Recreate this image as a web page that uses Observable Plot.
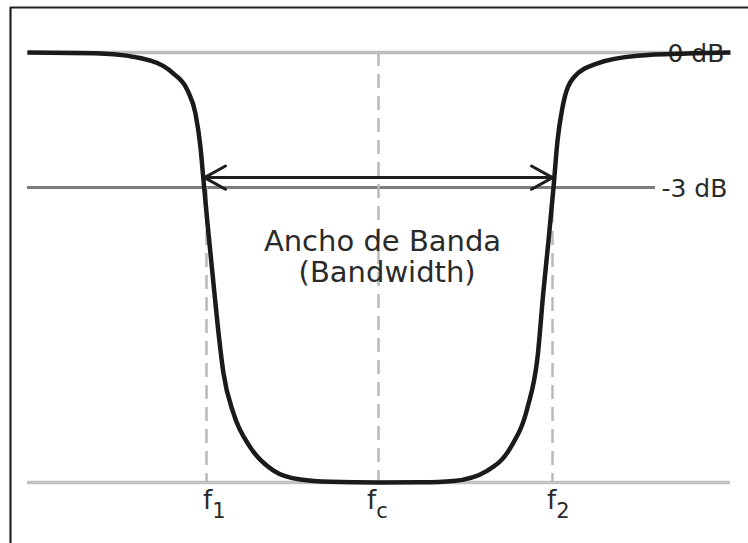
<!DOCTYPE html>
<html>
<head>
<meta charset="utf-8">
<script src="https://cdn.jsdelivr.net/npm/d3@7"></script>
<script src="https://cdn.jsdelivr.net/npm/@observablehq/plot@0.6"></script>
<style>
  html, body { margin: 0; padding: 0; background: #fff; }
  svg { display: block; }
</style>
</head>
<body>
<script>
// Frequency (arbitrary units) and response level (dB, schematic)
const curveFreq = [27, 100, 150, 173, 187, 195, 200, 203, 207, 212, 217, 223, 233, 250, 273, 300, 330, 378,
                   420, 453, 487, 510, 527, 537, 543, 548, 553, 557, 562, 573, 597, 637, 687, 730];
const curveDb   = [0, -0.02, -0.18, -0.47, -0.84, -1.36, -2.11, -2.84, -3.8, -4.91, -6.02, -7.13, -8.02, -8.78, -9.29, -9.49, -9.54, -9.556,
                   -9.55, -9.52, -9.29, -8.78, -7.89, -6.78, -5.29, -4.18, -3.0, -1.96, -1.22, -0.56, -0.24, -0.07, -0.02, 0];

const freqStart = 27, freqEnd = 730, minusThreeEnd = 655;
const levelTop = 0, levelHalf = -3, levelBottom = -9.556;
const f1 = 206, fc = 378, f2 = 552;
const markerNames = ["f", "f", "f"];
const markerSubs = ["1", "c", "2"];
const markerFreqs = [f1, fc, f2];
const markerTop = [levelHalf, levelTop, levelHalf];
const markerDxF = [1, -7, -1];
const markerDxS = [5.8, -2.2, 3.8];
const levelLabels = ["0 dB", "-3 dB"];
const levelLabelDb = [levelTop, levelHalf];
const levelLabelFreq = [667, 661];
const bandLabels = ["Ancho de Banda", " (Bandwidth)"];
const bandLabelFreq = [382, 382];
const bandLabelDb = [-4.4, -5.11];
const arrowDb = -2.78;
const arrowLeft = 204, arrowRight = 552;
const frameFreq = 10, frameDb = 1.0;

const curve = curveFreq.map((f, i) => ({f, db: curveDb[i]}));
const markers = markerFreqs.map((f, i) => ({f, top: markerTop[i], name: markerNames[i], sub: markerSubs[i], fx: f + markerDxF[i], sx: f + markerDxS[i]}));
const levels = levelLabels.map((t, i) => ({t, db: levelLabelDb[i], f: levelLabelFreq[i]}));
const bands = bandLabels.map((t, i) => ({t, f: bandLabelFreq[i], db: bandLabelDb[i]}));

const font = "DejaVu Sans";
const plot = Plot.plot({
  width: 748,
  height: 543,
  margin: 0,
  x: {domain: [0, 748], axis: null},
  y: {domain: [-(543 - 52) / 45, 52 / 45], axis: null},
  style: {fontFamily: font, background: "#fff"},
  marks: [
    // frame (top and left edges)
    Plot.ruleY([frameDb], {x1: frameFreq, x2: 748, stroke: "#222", strokeWidth: 2.2}),
    Plot.ruleX([frameFreq], {y1: frameDb, y2: -(543 - 52) / 45, stroke: "#222", strokeWidth: 2.2}),
    // reference levels
    Plot.ruleY([levelTop], {x1: freqStart, x2: freqEnd, stroke: "#bdbdbd", strokeWidth: 3.5}),
    Plot.ruleY([levelHalf], {x1: freqStart, x2: minusThreeEnd, stroke: "#7c7c7c", strokeWidth: 3}),
    Plot.ruleY([levelBottom], {x1: freqStart, x2: freqEnd, stroke: "#c2c2c2", strokeWidth: 3.5}),
    // dashed frequency markers
    Plot.ruleX(markers, {x: "f", y1: "top", y2: levelBottom, stroke: "#b9b9bf", strokeWidth: 2.5, strokeDasharray: "14 8"}),
    // level labels
    Plot.text(levels, {x: "f", y: "db", text: "t", textAnchor: "start", fontSize: 25, fill: "#2a2a2a", lineAnchor: "middle", dy: 1}),
    // bandwidth label
    Plot.text(bands, {x: "f", y: "db", text: "t", textAnchor: "middle", fontSize: 29, fill: "#2a2a2a", lineAnchor: "bottom"}),
    // frequency labels
    Plot.text(markers, {x: "fx", y: levelBottom, text: "name", textAnchor: "middle", fontSize: 26, fill: "#2a2a2a", lineAnchor: "bottom", dy: 26}),
    Plot.text(markers, {x: "sx", y: levelBottom, text: "sub", textAnchor: "start", fontSize: 21, fill: "#2a2a2a", lineAnchor: "bottom", dy: 35}),
    // bandwidth arrow (double headed)
    Plot.arrow([{x1: fc, x2: arrowLeft}, {x1: fc, x2: arrowRight}], {x1: "x1", x2: "x2", y1: arrowDb, y2: arrowDb, stroke: "#1e1e1e", strokeWidth: 3, headLength: 12, headAngle: 58}),
    // response curve
    Plot.line(curve, {x: "f", y: "db", curve: "monotone-x", stroke: "#1a1a1a", strokeWidth: 4.5, strokeLinejoin: "round", strokeLinecap: "butt"})
  ]
});

document.body.appendChild(plot);
</script>
</body>
</html>
